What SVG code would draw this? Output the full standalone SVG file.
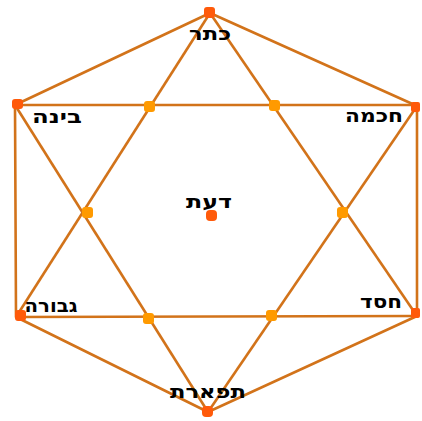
<svg xmlns="http://www.w3.org/2000/svg" width="422" height="421" viewBox="0 0 422 421">
<style>
.ln{stroke:#D2731A;stroke-width:2.6;fill:none;stroke-linejoin:round}
.v{fill:#FF5A0A}
.x{fill:#FF9A00}
.t{font-family:"DejaVu Sans","Liberation Sans",sans-serif;font-weight:bold;font-size:19px;fill:#000;direction:rtl}
</style>
<rect width="422" height="421" fill="#fff"/>
<g id="connectors">
<polygon class="ln" points="210,13 417,106 417,316 208,412 16,317 15,105"/>
<line class="ln" x1="15" y1="105" x2="417" y2="105"/>
<line class="ln" x1="16" y1="317" x2="417" y2="316"/>
<polyline class="ln" points="210,13 16,317"/>
<polyline class="ln" points="210,13 417,316"/>
<polyline class="ln" points="15,105 208,412"/>
<polyline class="ln" points="417,106 208,412"/>
</g>
<g id="crossings">
<rect class="x" x="144" y="101" width="11" height="11" rx="3"/>
<rect class="x" x="269" y="100" width="11" height="11" rx="3"/>
<rect class="x" x="82" y="207" width="11" height="11" rx="3"/>
<rect class="x" x="337" y="207" width="11" height="11" rx="3"/>
<rect class="x" x="143" y="313" width="11" height="11" rx="3"/>
<rect class="x" x="266" y="310" width="11" height="11" rx="3"/>
</g>
<g id="keter"><rect class="v" x="204" y="7" width="11" height="11" rx="3"/><text class="t" x="210" y="40" text-anchor="middle" textLength="42" lengthAdjust="spacingAndGlyphs">כתר</text></g>
<g id="chochmah"><rect class="v" x="411" y="102" width="9" height="10" rx="2"/><text class="t" x="374" y="122" text-anchor="middle" textLength="58" lengthAdjust="spacingAndGlyphs">חכמה</text></g>
<g id="binah"><rect class="v" x="12" y="99" width="11" height="10" rx="3"/><text class="t" x="57" y="123" text-anchor="middle" textLength="50" lengthAdjust="spacingAndGlyphs">בינה</text></g>
<g id="daat"><rect class="v" x="206" y="210" width="11" height="11" rx="4"/><text class="t" x="209" y="208" text-anchor="middle" textLength="46" lengthAdjust="spacingAndGlyphs">דעת</text></g>
<g id="gevurah"><rect class="v" x="15" y="310" width="11" height="11" rx="3"/><text class="t" x="51" y="312" text-anchor="middle" textLength="53" lengthAdjust="spacingAndGlyphs">גבורה</text></g>
<g id="chesed"><rect class="v" x="411" y="308" width="9" height="10" rx="2"/><text class="t" x="381" y="308" text-anchor="middle" textLength="42" lengthAdjust="spacingAndGlyphs">חסד</text></g>
<g id="tiferet"><rect class="v" x="202" y="406" width="11" height="11" rx="4"/><text class="t" x="208" y="398" text-anchor="middle" textLength="76" lengthAdjust="spacingAndGlyphs">תפארת</text></g>
</svg>
